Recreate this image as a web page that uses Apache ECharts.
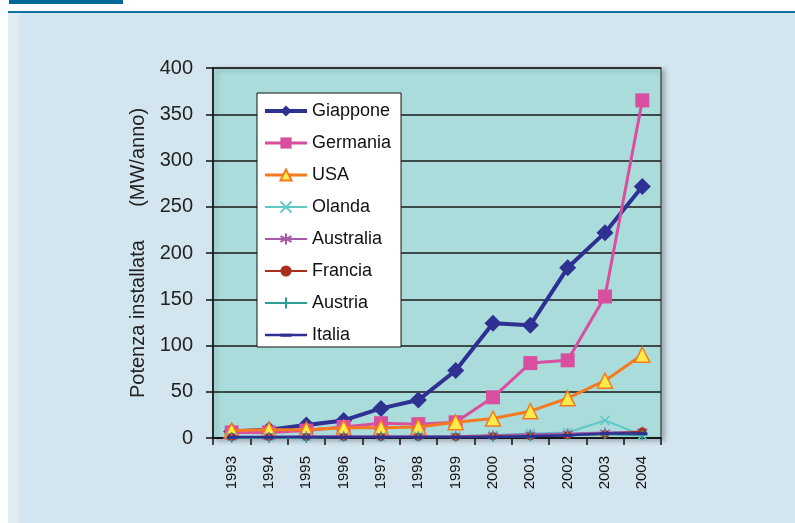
<!DOCTYPE html>
<html>
<head>
<meta charset="utf-8">
<script src="https://cdn.jsdelivr.net/npm/echarts@6/dist/echarts.min.js"></script>
<style>
html,body{margin:0;padding:0;background:#ffffff;}
#chart{width:795px;height:523px;}
</style>
</head>
<body>
<div id="chart"></div>
<script>
const years = ['1993','1994','1995','1996','1997','1998','1999','2000','2001','2002','2003','2004'];
const yTicks = [0, 50, 100, 150, 200, 250, 300, 350, 400];
const giappone = [7, 9, 14, 19, 32, 41, 73, 124, 122, 184, 222, 272];
const germania = [6, 6, 8, 12, 16, 15, 17, 44, 81, 84, 153, 365];
const usa = [8, 9, 9, 11, 11, 12, 17, 21, 29, 43, 62, 90];
const olanda = [1, 1, 1, 1, 1, 2, 2, 3, 5, 6, 19, 3];
const australia = [1, 1, 2, 2, 2, 2, 2, 3, 4, 5, 6, 7];
const francia = [1, 1, 1, 1, 1, 1, 1, 2, 2, 3, 4, 7];
const austria = [0, 0, 0, 1, 1, 1, 1, 1, 2, 3, 4, 3];
const italia = [1, 1, 1, 1, 1, 1, 1, 1, 2, 3, 5, 5];

const FONT = 'Liberation Sans, Arial, sans-serif';
const X_PATH = 'path://M0,0L10,10M10,0L0,10';
const STAR_PATH = 'path://M5,0L5,10M0,2.5L10,7.5M10,2.5L0,7.5';
const PLUS_PATH = 'path://M5,0L5,10M0,5L10,5';
const DASH_PATH = 'path://M0,0L0.01,0L0,0.01ZM10,10L9.99,10L10,9.99ZM0,3.8L10,3.8L10,6.6L0,6.6Z';

function lineSeries(name, data, color, width, symbol, size, itemStyle, z) {
  return {
    name: name, type: 'line', data: data, symbol: symbol, symbolSize: size,
    showAllSymbol: true, z: z,
    lineStyle: {color: color, width: width},
    itemStyle: Object.assign({color: color}, itemStyle || {}),
    emphasis: {disabled: true}
  };
}

const chart = echarts.init(document.getElementById('chart'), null, {renderer: 'canvas'});
chart.setOption({
  animation: false,
  backgroundColor: '#ffffff',
  graphic: [
    {type: 'rect', shape: {x: 8, y: 13, width: 787, height: 510}, style: {fill: '#d3e5ee'}, z: -10},
    {type: 'rect', shape: {x: 8, y: 13, width: 11, height: 510}, style: {fill: '#dfedf3'}, z: -9},
    {type: 'rect', shape: {x: 9, y: 0, width: 114, height: 4}, style: {fill: '#06679b'}, z: -8},
    {type: 'rect', shape: {x: 8, y: 11, width: 787, height: 2}, style: {fill: '#1470a6'}, z: -8}
  ],
  grid: {
    left: 213, top: 68, right: 134, bottom: 85,
    show: true, backgroundColor: '#aadcdc', borderColor: '#555555', borderWidth: 1.5,
    shadowColor: 'rgba(0,0,0,0.25)', shadowBlur: 5, shadowOffsetX: 3, shadowOffsetY: 2
  },
  legend: {
    orient: 'vertical', left: 257, top: 93,
    backgroundColor: '#ffffff', borderColor: '#111111', borderWidth: 1,
    padding: [9, 10, 3, 6], itemWidth: 42, itemHeight: 14, itemGap: 14,
    textStyle: {fontFamily: FONT, fontSize: 18, color: '#111111', lineHeight: 18},
    data: [
      {name: 'Giappone', lineStyle: {width: 4}},
      {name: 'Germania', lineStyle: {width: 3}},
      {name: 'USA', lineStyle: {width: 3}},
      {name: 'Olanda', lineStyle: {width: 2}},
      {name: 'Australia', lineStyle: {width: 2}},
      {name: 'Francia', lineStyle: {width: 2}},
      {name: 'Austria', lineStyle: {width: 2}},
      {name: 'Italia', lineStyle: {width: 2.5}}
    ]
  },
  xAxis: {
    type: 'category', data: years, boundaryGap: true,
    axisLine: {lineStyle: {color: '#111111', width: 1.5}},
    axisTick: {show: true, length: 7, lineStyle: {color: '#111111', width: 1.5}},
    axisLabel: {rotate: 90, fontFamily: FONT, fontSize: 15, color: '#111111', margin: 18, interval: 0},
    splitLine: {show: false}
  },
  yAxis: {
    type: 'value', min: yTicks[0], max: yTicks[yTicks.length - 1], interval: 50,
    name: 'Potenza installata      (MW/anno)', nameLocation: 'middle', nameGap: 63,
    nameTextStyle: {fontFamily: FONT, fontSize: 20, color: '#222222'},
    axisLine: {show: true, lineStyle: {color: '#111111', width: 1.5}},
    axisTick: {show: true, length: 7, lineStyle: {color: '#111111', width: 1.5}},
    axisLabel: {fontFamily: FONT, fontSize: 20, color: '#222222', margin: 20},
    splitLine: {lineStyle: {color: '#1a1a1a', width: 1.5}}
  },
  series: [
    lineSeries('Giappone', giappone, '#2e3192', 4, 'diamond', 17, null, 2),
    lineSeries('Germania', germania, '#d84f9f', 3, 'rect', 14, null, 3),
    lineSeries('USA', usa, '#f47a22', 3, 'triangle', 15, {color: '#ffec4a', borderColor: '#f47a22', borderWidth: 1.5}, 4),
    lineSeries('Olanda', olanda, '#5ec9c6', 2, X_PATH, 9, {borderColor: '#5ec9c6', borderWidth: 1.5}, 5),
    lineSeries('Australia', australia, '#a45aa8', 2, STAR_PATH, 10, {borderColor: '#a45aa8', borderWidth: 1.5}, 6),
    lineSeries('Francia', francia, '#a8301e', 2, 'circle', 8, null, 7),
    lineSeries('Austria', austria, '#2e9e9a', 2, PLUS_PATH, 10, {borderColor: '#2e9e9a', borderWidth: 1.5}, 8),
    lineSeries('Italia', italia, '#2e3192', 2.5, DASH_PATH, 10, null, 9)
  ]
});
</script>
</body>
</html>
